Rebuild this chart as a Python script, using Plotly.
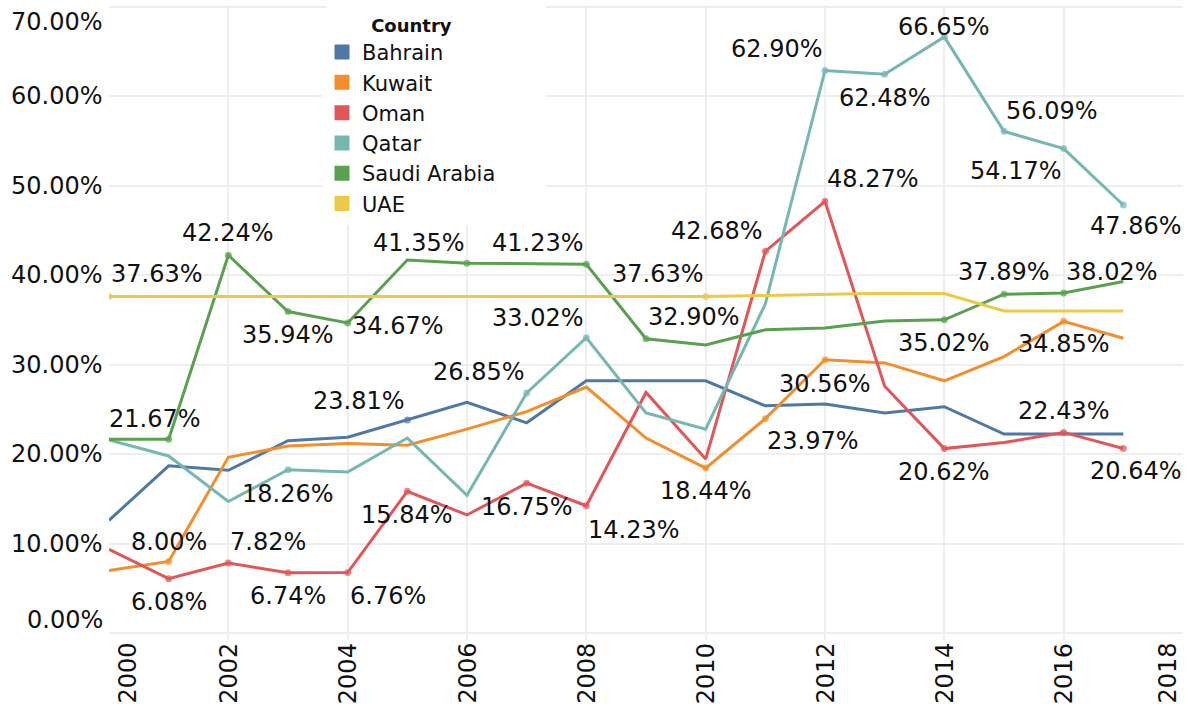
import plotly.graph_objects as go

# ---------------- data ----------------
years = [2000, 2001, 2002, 2003, 2004, 2005, 2006, 2007, 2008, 2009,
         2010, 2011, 2012, 2013, 2014, 2015, 2016, 2017]

countries = ["Bahrain", "Kuwait", "Oman", "Qatar", "Saudi Arabia", "UAE"]

bahrain = [12.60, 18.70, 18.20, 21.50, 21.90, 23.81, 25.80, 23.50, 28.20, 28.20,
           28.20, 25.40, 25.60, 24.60, 25.30, 22.25, 22.25, 22.25]
kuwait = [7.00, 8.00, 19.65, 20.90, 21.20, 21.00, 22.80, 24.75, 27.50, 21.80,
          18.44, 23.97, 30.56, 30.20, 28.20, 30.90, 34.85, 32.96]
oman = [9.35, 6.08, 7.82, 6.74, 6.76, 15.84, 13.20, 16.75, 14.23, 26.90,
        19.45, 42.68, 48.27, 27.60, 20.62, 21.30, 22.43, 20.64]
qatar = [21.60, 19.80, 14.70, 18.26, 18.00, 21.80, 15.40, 26.85, 33.02, 24.60,
         22.80, 36.80, 62.90, 62.48, 66.65, 56.09, 54.17, 47.86]
saudi_arabia = [21.67, 21.67, 42.24, 35.94, 34.67, 41.70, 41.35, 41.30, 41.23, 32.90,
                32.20, 33.90, 34.10, 34.90, 35.02, 37.89, 38.02, 39.30]
uae = [37.63, 37.63, 37.63, 37.63, 37.63, 37.63, 37.63, 37.63, 37.63, 37.63,
       37.63, 37.74, 37.90, 38.00, 37.95, 36.00, 36.00, 36.00]

series = {
    "Bahrain": bahrain,
    "Kuwait": kuwait,
    "Oman": oman,
    "Qatar": qatar,
    "Saudi Arabia": saudi_arabia,
    "UAE": uae,
}

# points that carry a value label (and a dot)
label_years = {
    "Bahrain": [2005],
    "Kuwait": [2001, 2010, 2011, 2012, 2016],
    "Oman": [2001, 2002, 2003, 2004, 2005, 2007, 2008, 2011, 2012, 2014, 2016, 2017],
    "Qatar": [2003, 2007, 2008, 2012, 2013, 2014, 2015, 2016, 2017],
    "Saudi Arabia": [2001, 2002, 2003, 2004, 2006, 2008, 2009, 2014, 2015, 2016],
    "UAE": [2000, 2010],
}

y_ticks = [0, 10, 20, 30, 40, 50, 60, 70]
x_ticks = [2000, 2002, 2004, 2006, 2008, 2010, 2012, 2014, 2016, 2018]

# ---------------- styles / placement ----------------
colors = {
    "Bahrain": "#4e79a7",
    "Kuwait": "#f28e2b",
    "Oman": "#e15759",
    "Qatar": "#76b7b2",
    "Saudi Arabia": "#59a14f",
    "UAE": "#edc948",
}

# (xanchor, xshift px, downward shift px)
placement = {
    ("UAE", 2000): ("left", 0, -22.5),
    ("UAE", 2010): ("right", 0, -22.5),
    ("Saudi Arabia", 2001): ("center", -14, -20),
    ("Saudi Arabia", 2002): ("center", 0, -22),
    ("Saudi Arabia", 2003): ("center", 0, 23),
    ("Saudi Arabia", 2004): ("left", 2, 3),
    ("Saudi Arabia", 2006): ("right", 0, -20),
    ("Saudi Arabia", 2008): ("right", 0, -21),
    ("Saudi Arabia", 2009): ("left", 0, -22),
    ("Saudi Arabia", 2014): ("center", 0, 23),
    ("Saudi Arabia", 2015): ("center", 0, -22),
    ("Saudi Arabia", 2016): ("left", 0, -20.5),
    ("Qatar", 2003): ("center", 0, 24),
    ("Qatar", 2007): ("right", 0, -20.5),
    ("Qatar", 2008): ("right", 0, -20),
    ("Qatar", 2012): ("right", 0, -21.5),
    ("Qatar", 2013): ("center", 0, 24),
    ("Qatar", 2014): ("center", 0, -10),
    ("Qatar", 2015): ("left", 0, -20),
    ("Qatar", 2016): ("right", 0, 22),
    ("Qatar", 2017): ("center", 13, 21),
    ("Oman", 2001): ("center", 0, 23.5),
    ("Oman", 2002): ("left", 0, -21.5),
    ("Oman", 2003): ("center", 0, 23),
    ("Oman", 2004): ("left", 0, 23),
    ("Oman", 2005): ("center", 0, 23.7),
    ("Oman", 2007): ("center", 0, 23.5),
    ("Oman", 2008): ("left", 0, 24),
    ("Oman", 2011): ("right", 0, -20.7),
    ("Oman", 2012): ("left", 0, -22),
    ("Oman", 2014): ("center", 0, 23),
    ("Oman", 2016): ("center", 0, -21.7),
    ("Oman", 2017): ("center", 13, 23),
    ("Kuwait", 2001): ("center", 0, -19),
    ("Kuwait", 2010): ("center", 0, 22.6),
    ("Kuwait", 2011): ("left", 0, 22),
    ("Kuwait", 2012): ("center", 0, 24),
    ("Kuwait", 2016): ("center", 0, 23),
    ("Bahrain", 2005): ("right", 0, -19.5),
}

FONT = "DejaVu Sans"
W, H = 1187, 704
ML, MR, MT, MB = 109, 4, 5, 64
PW = W - ML - MR
PH = H - MT - MB


def px_to_paper_x(px):
    return (px - ML) / PW


def px_to_paper_y(py):
    return 1 - (py - MT) / PH


fig = go.Figure()

for c in countries:
    vals = series[c]
    sizes = [7 if y in label_years[c] else 0 for y in years]
    fig.add_trace(go.Scatter(
        x=years, y=vals, mode="lines+markers", name=c,
        line=dict(color=colors[c], width=3),
        marker=dict(color=colors[c], size=sizes, line=dict(width=0)),
        showlegend=False, hoverinfo="skip",
    ))

# legend entries as squares
for c in countries:
    fig.add_trace(go.Scatter(
        x=[None], y=[None], mode="markers", name=c,
        marker=dict(symbol="square", size=15, color=colors[c]),
        showlegend=True,
    ))

annotations = []
for c in countries:
    for yr in label_years[c]:
        v = series[c][years.index(yr)]
        anchor, dx, dy = placement[(c, yr)]
        annotations.append(dict(
            x=yr, y=v, xref="x", yref="y", text=f"{v:.2f}%",
            showarrow=False, xanchor=anchor, yanchor="middle",
            xshift=dx, yshift=-dy,
            font=dict(family=FONT, size=24, color="#111111"),
        ))

for t in y_ticks:
    ys = 0
    if t == y_ticks[-1]:
        ys = -15
    elif t == y_ticks[0]:
        ys = 13
    annotations.append(dict(
        x=0, y=t, xref="paper", yref="y", text=f"{t:.2f}%",
        showarrow=False, xanchor="right", yanchor="middle",
        xshift=-4, yshift=ys,
        font=dict(family=FONT, size=24, color="#111111"),
    ))

for t in x_ticks:
    xs = 0
    if t == x_ticks[0]:
        xs = 18
    elif t == x_ticks[-1]:
        xs = -16
    annotations.append(dict(
        x=t, y=0, xref="x", yref="paper", text=str(t),
        showarrow=False, xanchor="center", yanchor="top", textangle=-90,
        xshift=xs, yshift=-1,
        font=dict(family=FONT, size=24, color="#111111"),
    ))

# white panel behind the legend (hides gridlines there)
shapes = [dict(
    type="rect", xref="paper", yref="paper", layer="above",
    x0=px_to_paper_x(327), x1=px_to_paper_x(546),
    y0=px_to_paper_y(218), y1=px_to_paper_y(3),
    fillcolor="white", line=dict(width=0),
)]

fig.update_layout(
    width=W, height=H,
    margin=dict(l=ML, r=MR, t=MT, b=MB, pad=0),
    paper_bgcolor="white", plot_bgcolor="white",
    font=dict(family=FONT, size=20, color="#111111"),
    xaxis=dict(range=[2000, 2018], tick0=2000, dtick=2, showticklabels=False,
               showgrid=True, gridcolor="#eeeeee", gridwidth=1.5,
               zeroline=False, showline=False, ticks=""),
    yaxis=dict(range=[-0.78, 70.22], tick0=0, dtick=10, showticklabels=False,
               showgrid=True, gridcolor="#eeeeee", gridwidth=1.5,
               zeroline=False, showline=False, ticks=""),
    legend=dict(
        x=px_to_paper_x(322), y=px_to_paper_y(8.5), xanchor="left", yanchor="top",
        bgcolor="white", borderwidth=0,
        title=dict(text="<b>Country</b>", side="top center",
                   font=dict(family=FONT, size=18, color="#111111")),
        font=dict(family=FONT, size=21, color="#111111"),
        itemsizing="trace", tracegroupgap=0,
    ),
    shapes=shapes,
    annotations=annotations,
    showlegend=True,
)

fig.write_html("out.html",
               config={"displayModeBar": False},
               post_script="document.body.style.margin='0';document.body.style.overflow='hidden';")
